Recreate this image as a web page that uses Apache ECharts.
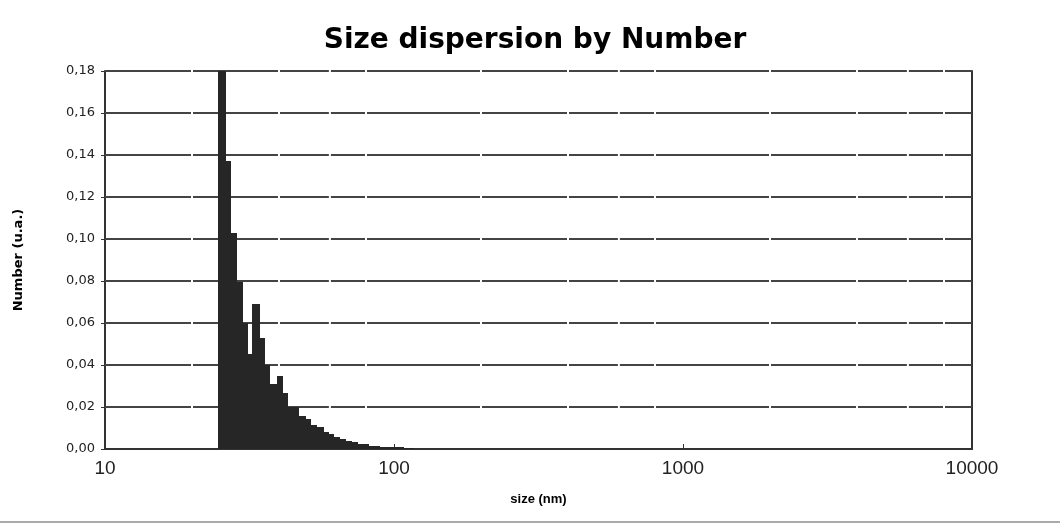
<!DOCTYPE html>
<html>
<head>
<meta charset="utf-8">
<script src="https://cdn.jsdelivr.net/npm/echarts@6/dist/echarts.min.js"></script>
<style>html,body{margin:0;padding:0;background:#fff}#c{width:1060px;height:527px}</style>
</head>
<body>
<div id="c"></div>
<script>
// Bin edges (nm) of the histogram
const sizeEdges = [24.7, 26.0, 27.1, 28.4, 29.7, 30.9, 32.3, 34.2, 35.5, 37.0, 39.3, 40.9, 42.5, 44.6, 46.7, 49.2, 51.4, 53.9, 56.6, 59.0, 61.4, 64.7, 67.7, 71.0, 74.3, 77.5, 81.1, 84.9, 88.9, 93.1, 97.6, 102.4, 107.7, 112.1, 116.6];
// Number (u.a.) for each bin
const numberValues = [0.19, 0.137, 0.103, 0.0795, 0.060, 0.0454, 0.069, 0.0528, 0.0398, 0.0311, 0.035, 0.0268, 0.020, 0.020, 0.0155, 0.0142, 0.0115, 0.0105, 0.0080, 0.0072, 0.0056, 0.0049, 0.0039, 0.0032, 0.0025, 0.0025, 0.0016, 0.0015, 0.0010, 0.0009, 0.0009, 0.0008, 0.0005, 0.0005];
// Axis ticks
const yTicks = [0.02, 0.04, 0.06, 0.08, 0.10, 0.12, 0.14, 0.16, 0.18];
const xMin = 10, xMax = 10000;
// minor positions where the gridlines have small breaks
const gridBreaks = [20, 40, 60, 80, 200, 400, 600, 800, 2000, 4000, 6000, 8000];

const bins = numberValues.map((v, i) => [sizeEdges[i], sizeEdges[i + 1], v]);
const bounds = [xMin].concat(gridBreaks, [xMax]);
const gridSegs = [];
yTicks.forEach(y => {
  for (let i = 0; i < bounds.length - 1; i++) {
    const a = i === 0 ? bounds[i] : bounds[i] * 1.008;
    const b = i === bounds.length - 2 ? bounds[i + 1] : bounds[i + 1] / 1.008;
    gridSegs.push([a, b, y]);
  }
});

const chart = echarts.init(document.getElementById('c'), null, {renderer: 'canvas'});
chart.setOption({
  animation: false,
  backgroundColor: '#fff',
  title: {
    text: 'Size dispersion by Number',
    left: 530, textAlign: 'center', top: 22,
    textStyle: {fontFamily: 'DejaVu Sans', fontWeight: 'bold', fontSize: 28, color: '#000'}
  },
  grid: {left: 105, right: 88, top: 71, bottom: 78},
  xAxis: {
    type: 'log', logBase: 10, min: xMin, max: xMax,
    name: 'size (nm)', nameLocation: 'middle', nameGap: 44,
    nameTextStyle: {fontFamily: 'Liberation Sans', fontWeight: 'bold', fontSize: 13, color: '#000'},
    axisLine: {show: true, lineStyle: {color: '#333', width: 2}},
    axisTick: {show: true, inside: true, length: 5, lineStyle: {color: '#333', width: 1}},
    axisLabel: {fontFamily: 'Liberation Sans', fontSize: 19, color: '#222', margin: 10,
      formatter: v => String(Math.round(v))},
    splitLine: {show: false}, minorTick: {show: false}
  },
  yAxis: [{
    type: 'value', min: 0, max: 0.18, interval: 0.02,
    name: 'Number (u.a.)', nameLocation: 'middle', nameGap: 80,
    nameTextStyle: {fontFamily: 'DejaVu Sans', fontWeight: 'bold', fontSize: 13, color: '#000'},
    axisLine: {show: true, lineStyle: {color: '#333', width: 2}},
    axisTick: {show: true, inside: false, length: 4, lineStyle: {color: '#333', width: 1}},
    axisLabel: {fontFamily: 'DejaVu Sans', fontSize: 13, color: '#222', margin: 10,
      formatter: v => v.toFixed(2).replace('.', ',')},
    splitLine: {show: false}
  }, {
    type: 'value', min: 0, max: 0.18, interval: 0.02, position: 'right',
    axisLine: {show: true, lineStyle: {color: '#333', width: 2}},
    axisTick: {show: false}, axisLabel: {show: false}, splitLine: {show: false}
  }],
  series: [{
    type: 'custom', name: 'grid', silent: true, z: 1,
    data: gridSegs,
    renderItem: (params, api) => {
      const p0 = api.coord([api.value(0), api.value(2)]);
      const p1 = api.coord([api.value(1), api.value(2)]);
      const y = Math.round(p0[1]);
      return {type: 'line', shape: {x1: p0[0], y1: y, x2: p1[0], y2: y},
        style: {stroke: '#444', lineWidth: 2}};
    }
  }, {
    type: 'custom', name: 'Number', z: 3,
    data: bins,
    renderItem: (params, api) => {
      const ymax = 0.18;
      const p0 = api.coord([api.value(0), Math.min(api.value(2), ymax)]);
      const p1 = api.coord([api.value(1), 0]);
      const x0 = Math.round(p0[0]), x1 = Math.round(p1[0]) + 1;
      const yt = Math.round(p0[1]), yb = Math.round(p1[1]);
      return {type: 'rect', shape: {x: x0, y: yt, width: x1 - x0, height: yb - yt},
        style: {fill: '#262626'}};
    }
  }],
  graphic: [{
    type: 'line', silent: true, z: 0,
    shape: {x1: 0, y1: 522, x2: 1060, y2: 522},
    style: {stroke: '#aaaaaa', lineWidth: 2}
  }]
});
</script>
</body>
</html>
